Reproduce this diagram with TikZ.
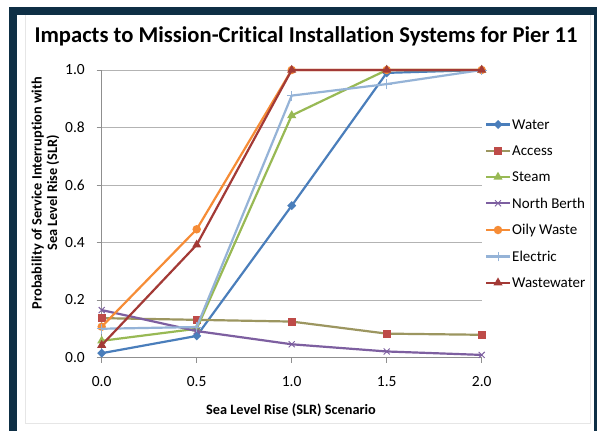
\documentclass[tikz,border=0pt]{standalone}
\usepackage{fontspec}
\setmainfont{Carlito}[Ligatures=NoCommon]
\usetikzlibrary{shapes.geometric,shapes.misc}
\definecolor{navy}{HTML}{0E2F45}
\definecolor{cWater}{HTML}{4A7EBB}
\definecolor{cAccessL}{HTML}{9C9660}
\definecolor{cAccessM}{HTML}{BE4B48}
\definecolor{cSteam}{HTML}{98B954}
\definecolor{cNorth}{HTML}{7D5FA0}
\definecolor{cOily}{HTML}{F68C36}
\definecolor{cElec}{HTML}{95B3D7}
\definecolor{cWaste}{HTML}{A33A36}
\definecolor{gridc}{HTML}{B3B3B3}
\definecolor{framec}{HTML}{E6E6E6}
\newcommand\plotseries[4]{%
  \foreach \v [count=\i from 0] in {#4} {\coordinate (#1\i) at ({101.7+95*\i},{357.5-287.5*\v});}
  \draw[#2] (#10) -- (#11) -- (#12) -- (#13) -- (#14);
  \foreach \i in {0,...,4} {\node[#3] at (#1\i) {};}
}
\newcommand\legendentry[5]{%
  \coordinate (#1a) at (486,#5);
  \coordinate (#1b) at (510,#5);
  \draw[#2] (#1a) -- (#1b);
  \node[#3] (#1m) at (498,#5) {};
  \node[legtext] (#1t) at (512,#5) {#4};
}
\begin{document}
\begin{tikzpicture}[x=1pt,y=-1pt,
  mk/.style={inner sep=0pt,outer sep=0pt},
  mdiam/.style={mk,diamond,fill=#1,minimum size=9pt},
  msq/.style={mk,rectangle,fill=#1,minimum size=8pt},
  mtri/.style={mk,regular polygon,regular polygon sides=3,fill=#1,minimum size=10.5pt},
  mcirc/.style={mk,circle,fill=#1,minimum size=8.5pt},
  mx/.style={mk,cross out,draw=#1,minimum size=6pt,line width=0.9pt},
  mplus/.style={mk,cross out,draw=#1,rotate=45,minimum size=7pt,line width=0.9pt},
  ser/.style={line width=2.2pt,color=#1,line join=round},
  gridl/.style={gridc,line width=0.8pt},
  axisl/.style={gridc!80!black,line width=0.8pt},
  ticklab/.style={inner sep=0pt,font=\fontsize{15.5}{16}\selectfont},
  legtext/.style={anchor=west,inner sep=0pt,font=\fontsize{15}{16}\selectfont},
  axtitle/.style={font=\bfseries\fontsize{14.3}{15.5}\selectfont,inner sep=0pt}]
\useasboundingbox (0,0) rectangle (597,431);
\fill[white] (0,0) rectangle (597,431);
\fill[navy] (9,7) rectangle (597,15);
\fill[navy] (9,7) rectangle (17,431);
\fill[navy] (594,7) rectangle (597,431);
\draw[framec,line width=0.6pt] (25,15) -- (25,423.5) -- (590,423.5) -- (590,15);
% title
\node[inner sep=0pt,font=\bfseries\fontsize{22.6}{26}\selectfont] (title) at (306,36) {Impacts to Mission-Critical Installation Systems for Pier 11};
% grid
\foreach \v in {0.2,0.4,0.6,0.8,1.0} {\draw[gridl] (101.7,{357.5-287.5*\v}) -- (481.7,{357.5-287.5*\v});}
\draw[axisl] (101.7,70) -- (101.7,357.5) -- (481.7,357.5);
\foreach \v/\t in {0/0.0,0.2/0.2,0.4/0.4,0.6/0.6,0.8/0.8,1.0/1.0} {
  \draw[axisl] (96.7,{357.5-287.5*\v}) -- (101.7,{357.5-287.5*\v});
  \node[ticklab,anchor=east] at (85,{357.5-287.5*\v}) {\t};
}
\foreach \i/\t in {0/0.0,1/0.5,2/1.0,3/1.5,4/2.0} {
  \draw[axisl] ({101.7+95*\i},357.5) -- ({101.7+95*\i},362.5);
  \node[ticklab] at ({101.7+95*\i},382) {\t};
}
\node[axtitle] (xt) at (291,410) {Sea Level Rise (SLR) Scenario};
\node[axtitle,rotate=90,align=center] (yt) at (45.5,193) {Probability of Service Interruption with\\Sea Level Rise (SLR)};
% series
\plotseries{wa}{ser=cWater}{mdiam=cWater}{0.015,0.075,0.528,0.99,1.0}
\plotseries{ac}{ser=cAccessL}{msq=cAccessM}{0.137,0.131,0.125,0.083,0.079}
\plotseries{st}{ser=cSteam}{mtri=cSteam}{0.058,0.100,0.842,1.0,1.0}
\plotseries{nb}{ser=cNorth}{mx=cNorth}{0.165,0.092,0.046,0.021,0.009}
\plotseries{ow}{ser=cOily}{mcirc=cOily}{0.107,0.446,1.0,1.0,1.0}
\plotseries{el}{ser=cElec}{mplus=cElec}{0.100,0.106,0.911,0.951,1.0}
\plotseries{ww}{ser=cWaste}{mtri=cWaste}{0.043,0.392,1.0,1.0,1.0}
% legend
\legendentry{lwa}{ser=cWater}{mdiam=cWater}{Water}{124.5}
\legendentry{lac}{ser=cAccessL}{msq=cAccessM}{Access}{150.7}
\legendentry{lst}{ser=cSteam}{mtri=cSteam}{Steam}{177}
\legendentry{lnb}{ser=cNorth}{mx=cNorth}{North Berth}{203.3}
\legendentry{low}{ser=cOily}{mcirc=cOily}{Oily Waste}{230}
\legendentry{lel}{ser=cElec}{mplus=cElec}{Electric}{256.5}
\legendentry{lww}{ser=cWaste}{mtri=cWaste}{Wastewater}{282.7}
\end{tikzpicture}
\end{document}
